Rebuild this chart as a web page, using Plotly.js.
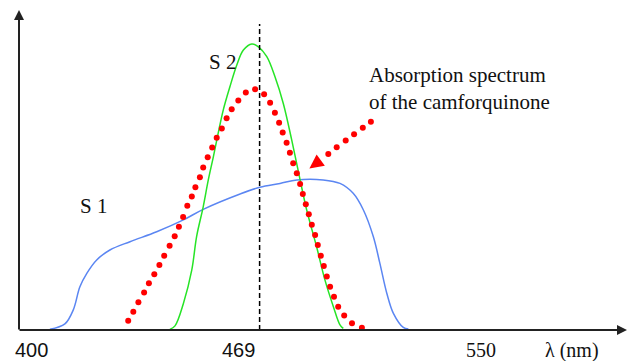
<!DOCTYPE html>
<html>
<head>
<meta charset="utf-8">
<script src="https://cdn.plot.ly/plotly-3.0.1.min.js"></script>
<style>html,body{margin:0;padding:0;background:#fff;}#chart{width:628px;height:361px;}</style>
</head>
<body>
<div id="chart"></div>
<script>
// ---- data (wavelength in nm, relative intensity) ----
const s1Wavelength = [406.3, 411.3, 414.1, 416.3, 418.6, 421.9, 426.3, 433.0, 441.9, 450.8, 457.4, 469.7, 476.3, 483.0, 488.6, 497.4, 503.0, 507.4, 510.8, 514.1, 516.3, 518.6, 520.8, 524.1, 525.8];
const s1Intensity  = [0.2, 1.9, 6.3, 13.5, 17.7, 21.9, 25.0, 27.6, 30.7, 34.4, 37.7, 42.5, 44.6, 45.8, 46.9, 46.9, 45.8, 42.7, 37.5, 29.2, 20.8, 11.5, 5.2, 0.8, 0.3];

const s2Wavelength = [446.3, 448.0, 450.8, 453.6, 455.2, 457.4, 459.1, 460.8, 462.4, 464.1, 466.3, 468.6, 470.8, 473.6, 475.8, 478.6, 481.3, 484.1, 486.9, 489.7, 491.9, 495.2, 498.0, 500.8, 503.0, 504.1];
const s2Intensity  = [0.2, 1.3, 8.3, 18.8, 29.2, 38.5, 46.9, 54.2, 61.5, 68.8, 76.0, 82.8, 87.5, 89.4, 88.5, 85.4, 79.2, 70.8, 59.4, 46.9, 37.5, 26.0, 15.6, 7.3, 1.6, 0.5];

const cqWavelength = [430.8, 432.4, 434.1, 435.8, 437.7, 439.3, 441.1, 442.8, 444.4, 446.2, 447.9, 449.3, 450.7, 452.1, 453.6, 454.8, 456.3, 457.4, 458.9, 460.4, 461.9, 463.6, 465.2, 466.9, 469.1, 471.6, 474.7, 477.7, 479.7, 481.3, 482.7, 483.9, 485.2, 486.3, 487.4, 488.6, 489.7, 490.6, 491.6, 492.6, 493.6, 494.7, 495.6, 496.6, 497.6, 498.6, 499.7, 501.0, 502.4, 504.4, 507.0, 510.3];
const cqAbsorbance = [-0.3, 2.9, 5.7, 8.7, 11.7, 14.6, 17.4, 20.3, 23.2, 26.3, 29.3, 32.3, 35.3, 38.8, 41.7, 44.6, 47.7, 50.8, 54.0, 57.0, 60.1, 63.0, 66.2, 69.0, 71.7, 74.2, 75.2, 73.7, 71.0, 67.9, 64.8, 61.7, 58.5, 55.4, 52.1, 49.0, 45.6, 42.5, 39.3, 36.2, 32.9, 29.7, 26.6, 23.2, 20.0, 16.7, 13.5, 10.4, 7.3, 4.5, 2.1, 0.7];

// dotted pointer from the label to the absorption curve
const pointerWavelength = [513.3, 510.6, 507.7, 504.9, 501.9, 499.1];
const pointerValue      = [65.1, 63.2, 61.2, 59.2, 57.1, 55.0];
const pointerTip = [492.8, 50.5];

const markedWavelength = 476.2;   // dashed vertical line
const markedTop = 95.6;

const tickValues = [400, 469, 550];
const tickLabels = ['400', '469', '550'];
const axisLabel = 'λ (nm)';
const axisLabelPos = 580.3;

const labelS1 = 'S 1', labelS1Pos = [420.8, 38.8];
const labelS2 = 'S 2', labelS2Pos = [463.7, 83.8];
const labelCQ = 'Absorption spectrum<br>of the camforquinone', labelCQPos = [512.0, 75.6];

// ---- traces ----
const serif = 'Liberation Serif, Times New Roman, serif';
const sans = 'Liberation Sans, Arial, sans-serif';

const traces = [
  {x: s1Wavelength, y: s1Intensity, mode: 'lines', line: {color: '#5b86f2', width: 1.5, shape: 'spline', smoothing: 1}, cliponaxis: false, hoverinfo: 'skip'},
  {x: s2Wavelength, y: s2Intensity, mode: 'lines', line: {color: '#26e426', width: 1.5, shape: 'spline', smoothing: 1}, cliponaxis: false, hoverinfo: 'skip'},
  {x: cqWavelength, y: cqAbsorbance, mode: 'markers', marker: {color: '#ff0000', size: 6}, cliponaxis: false, hoverinfo: 'skip'},
  {x: pointerWavelength, y: pointerValue, mode: 'markers', marker: {color: '#ff0000', size: 6}, cliponaxis: false, hoverinfo: 'skip'}
];

const annotations = [];
// axes drawn as arrows
annotations.push({xref: 'paper', yref: 'paper', x: 1, y: 0, ax: -608, ay: 0, axref: 'pixel', ayref: 'pixel', text: '', font: {size: 1}, borderpad: 0, showarrow: true, arrowhead: 2, arrowsize: 1, arrowwidth: 2, arrowcolor: '#222'});
annotations.push({xref: 'paper', yref: 'paper', x: 0, y: 1, ax: 0, ay: 320, axref: 'pixel', ayref: 'pixel', text: '', font: {size: 1}, borderpad: 0, showarrow: true, arrowhead: 2, arrowsize: 1, arrowwidth: 2, arrowcolor: '#222'});
// pointer head
annotations.push({xref: 'x', yref: 'y', x: pointerTip[0], y: pointerTip[1], ax: 11, ay: -8, text: '', font: {size: 1}, borderpad: 0, showarrow: true, arrowhead: 2, arrowsize: 1.4, arrowwidth: 2, arrowcolor: '#ff0000', standoff: 0, startstandoff: 0});
// tick labels
tickValues.forEach((v, i) => {
  annotations.push({xref: 'x', yref: 'paper', x: v, y: 0, yshift: -20, xanchor: 'center', yanchor: 'middle', showarrow: false, text: tickLabels[i], font: {family: i < 2 ? sans : serif, size: 20, color: '#111'}});
});
annotations.push({xref: 'x', yref: 'paper', x: axisLabelPos, y: 0, yshift: -20, xanchor: 'center', yanchor: 'middle', showarrow: false, text: axisLabel, font: {family: serif, size: 20, color: '#111'}});
// text labels
annotations.push({xref: 'x', yref: 'y', x: labelS1Pos[0], y: labelS1Pos[1], xanchor: 'center', yanchor: 'middle', showarrow: false, text: labelS1, font: {family: serif, size: 21, color: '#111'}});
annotations.push({xref: 'x', yref: 'y', x: labelS2Pos[0], y: labelS2Pos[1], xanchor: 'center', yanchor: 'middle', showarrow: false, text: labelS2, font: {family: serif, size: 21, color: '#111'}});
annotations.push({xref: 'x', yref: 'y', x: labelCQPos[0], y: labelCQPos[1], xanchor: 'left', yanchor: 'middle', align: 'left', showarrow: false, text: labelCQ, font: {family: serif, size: 21, color: '#111'}});

const layout = {
  width: 628, height: 361,
  margin: {l: 19, r: 1, t: 10, b: 31},
  paper_bgcolor: '#fff', plot_bgcolor: '#fff',
  showlegend: false,
  xaxis: {range: [396, 598.67], showgrid: false, zeroline: false, showticklabels: false, showline: false, ticks: '', fixedrange: true},
  yaxis: {range: [0, 100], showgrid: false, zeroline: false, showticklabels: false, showline: false, ticks: '', fixedrange: true},
  shapes: [
    {type: 'line', xref: 'x', yref: 'y', x0: markedWavelength, x1: markedWavelength, y0: 0, y1: markedTop, line: {color: '#000', width: 1.5, dash: '5px,3px'}}
  ],
  annotations: annotations
};

Plotly.newPlot('chart', traces, layout, {staticPlot: true, displayModeBar: false});
</script>
</body>
</html>
